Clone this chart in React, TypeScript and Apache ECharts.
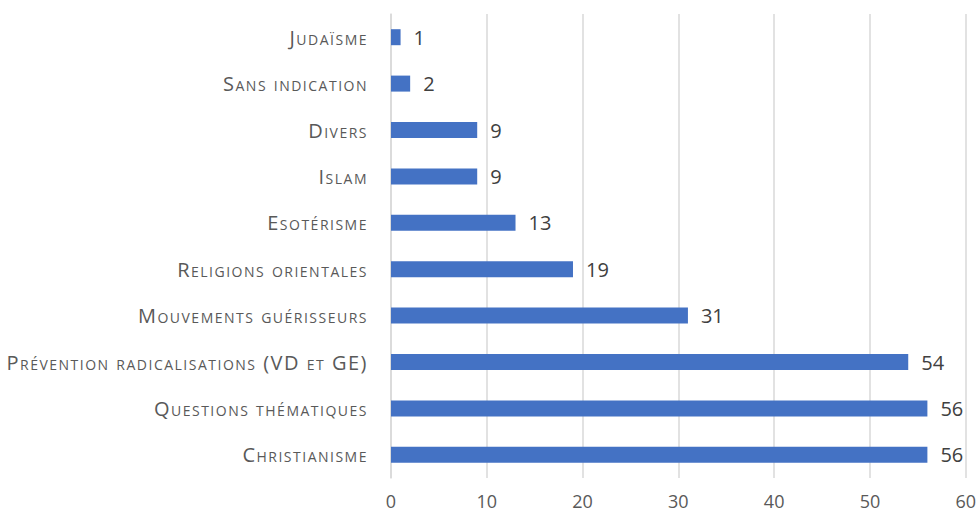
import React, { useEffect, useRef } from "react";
import * as echarts from "echarts";

const categories = [
  "Judaïsme",
  "Sans indication",
  "Divers",
  "Islam",
  "Esotérisme",
  "Religions orientales",
  "Mouvements guérisseurs",
  "Prévention radicalisations (VD et GE)",
  "Questions thématiques",
  "Christianisme",
];
const values = [1, 2, 9, 9, 13, 19, 31, 54, 56, 56];
const xTicks = { min: 0, max: 60, interval: 10 };

export default function App() {
  const ref = useRef<HTMLDivElement>(null);
  useEffect(() => {
    const chart = echarts.init(ref.current!, null, { renderer: "svg" });
    const font = "Open Sans";
    chart.setOption({
      animation: false,
      backgroundColor: "#ffffff",
      grid: { left: 391, right: 13, top: 14, bottom: 36, containLabel: false },
      xAxis: {
        type: "value",
        min: xTicks.min,
        max: xTicks.max,
        interval: xTicks.interval,
        axisLine: { show: false },
        axisTick: { show: false },
        splitLine: { show: true, lineStyle: { color: "#d9d9d9", width: 1.5 } },
        axisLabel: { color: "#595959", fontSize: 18, fontFamily: font, margin: 14 },
      },
      yAxis: {
        type: "category",
        inverse: true,
        data: categories,
        axisLine: { show: true, lineStyle: { color: "#d9d9d9", width: 1.5 } },
        axisTick: { show: false },
        axisLabel: {
          color: "#595959",
          fontSize: 20,
          fontFamily: font,
          margin: 23,
        },
      },
      series: [
        {
          type: "bar",
          data: values,
          barWidth: 16,
          itemStyle: { color: "#4472C4" },
          label: {
            show: true,
            position: "right",
            distance: 13,
            color: "#404040",
            fontSize: 20,
            fontFamily: font,
          },
        },
      ],
    });
    return () => chart.dispose();
  }, []);
  return (
    <>
      <style>{`#root svg text { font-variant: small-caps !important; }
#root svg text[text-anchor="end"] { letter-spacing: 1.5px; }`}</style>
      <div
        ref={ref}
        style={{ position: "fixed", left: 0, top: 0, width: 979, height: 514 }}
      />
    </>
  );
}
